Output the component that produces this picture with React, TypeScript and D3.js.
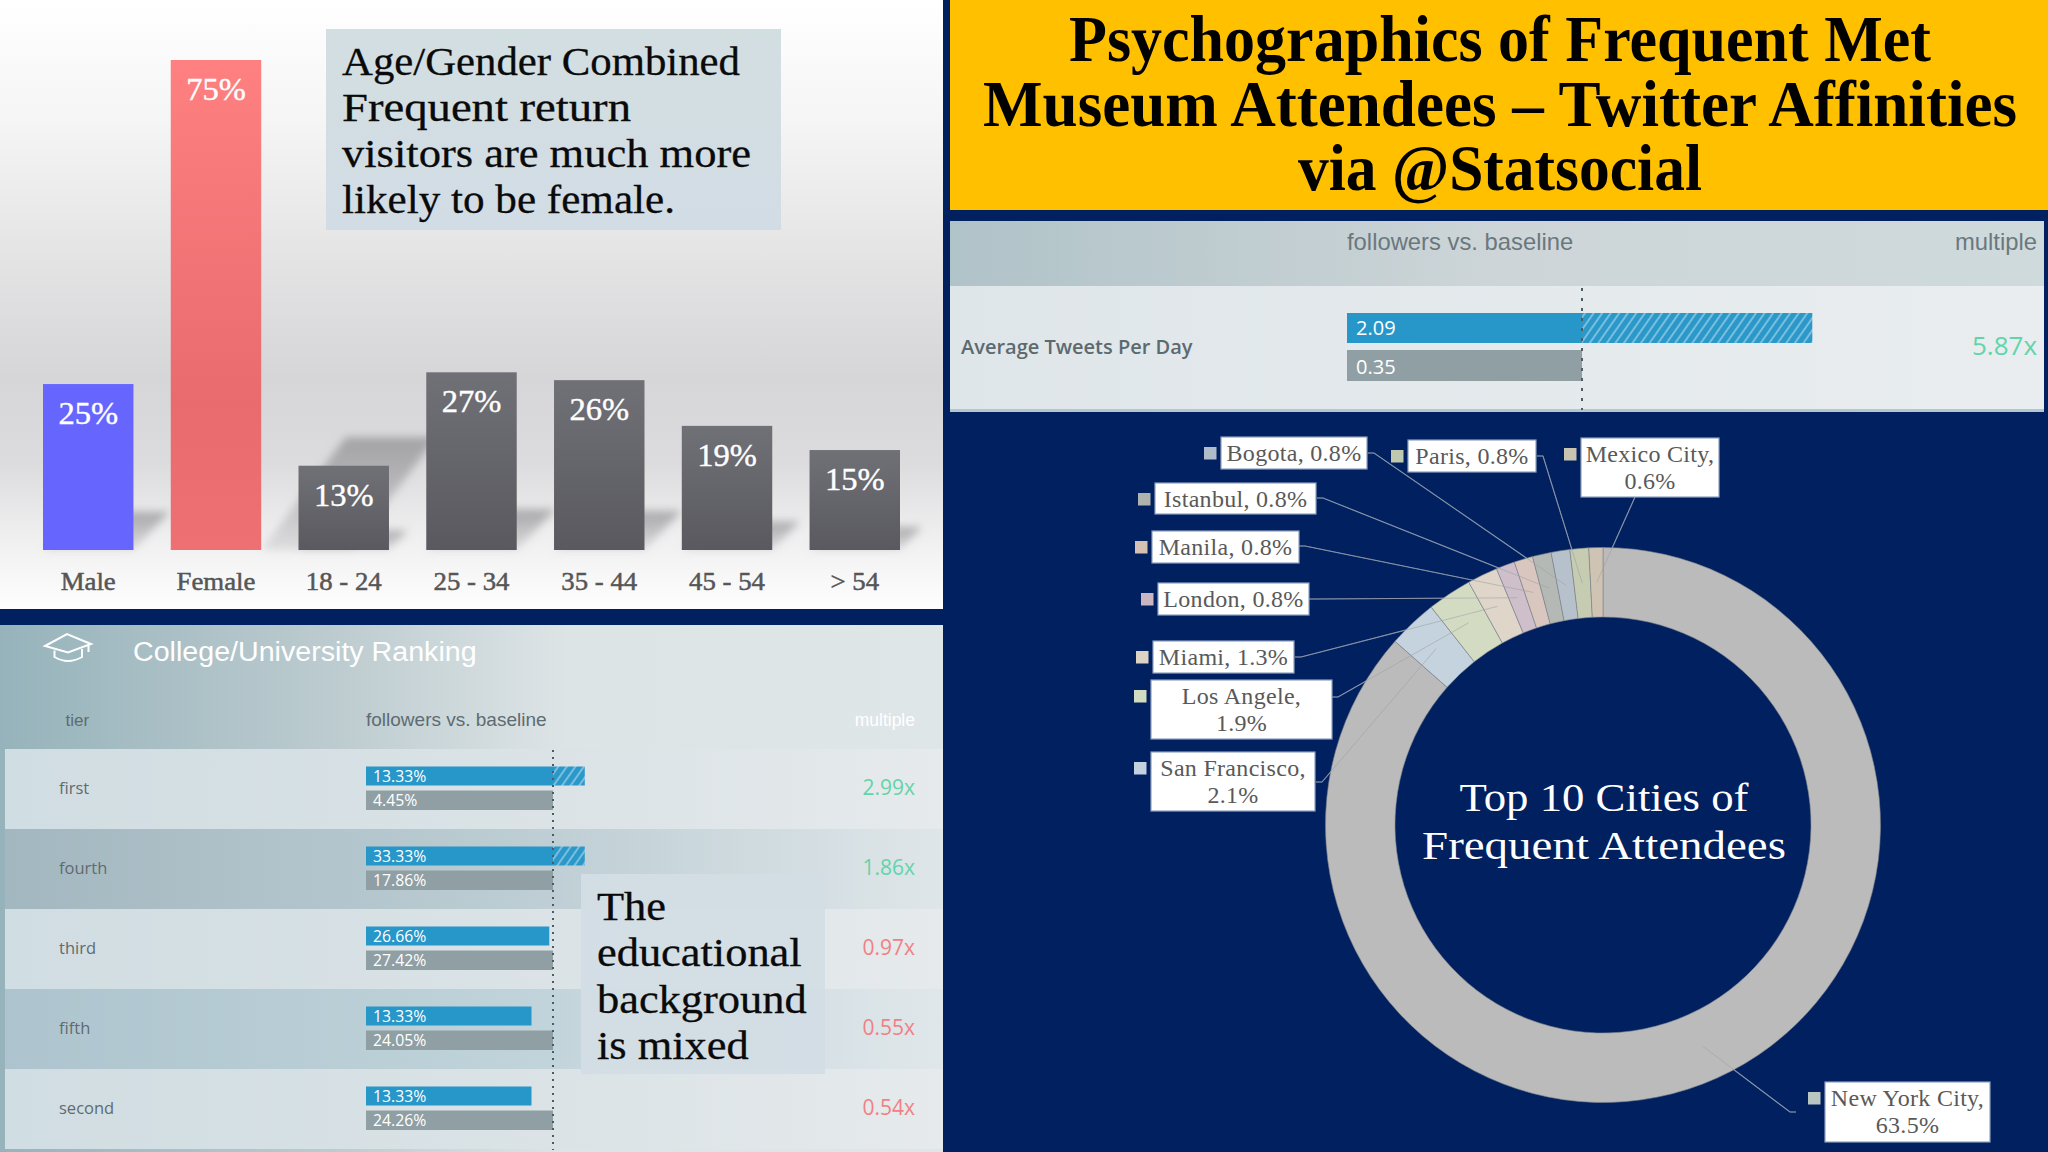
import * as d3 from 'd3';
import { useRef, useEffect } from 'react';

const SERIF = '"Liberation Serif", serif';
const SANS = '"Liberation Sans", sans-serif';
const OPEN = '"Open Sans", sans-serif';

// demographic bars
const demoCategories = ['Male', 'Female', '18 - 24', '25 - 34', '35 - 44', '45 - 54', '> 54'];
const demoLabels = [25, 75, 13, 27, 26, 19, 15];
// bar heights as drawn in the picture, a little off the printed labels
const demoHeights = [25.4, 75, 12.9, 27.2, 26, 19, 15.3];

// college table
const tiers = ['first', 'fourth', 'third', 'fifth', 'second'];
const tierFollowers = ['13.33%', '33.33%', '26.66%', '13.33%', '13.33%'];
const tierBaseline = ['4.45%', '17.86%', '27.42%', '24.05%', '24.26%'];
const tierMultiple = ['2.99x', '1.86x', '0.97x', '0.55x', '0.54x'];
// bar length, baseline bar = 1
const tierBarLength = [1.17, 1.17, 0.98, 0.885, 0.885];
const tierGood = [true, true, false, false, false];
const tierRowFill = ['url(#rowLight)', 'url(#rowDark)', 'url(#rowLight)', 'url(#rowBlue)', 'url(#rowLight)'];

// tweets table
const tweetFollowers = '2.09';
const tweetBaseline = '0.35';
const tweetMultiple = '5.87x';
const tweetBarLength = 1.98;

// donut
const cities = ['New York City', 'San Francisco', 'Los Angele', 'Miami', 'London', 'Manila', 'Istanbul', 'Bogota', 'Paris', 'Mexico City'];
const cityShare = [63.5, 2.1, 1.9, 1.3, 0.8, 0.8, 0.8, 0.8, 0.8, 0.6];
const sliceColors = ['#bcbbbc', '#c5d3df', '#d3dcc2', '#dfd5c9', '#cfbfca', '#d9c7bf', '#b5b9b6', '#b6c1cc', '#c5ccb1', '#cfc4b4'];
const swatchColors = ['#b9c5c1', '#c3d2de', '#d2dcc0', '#dcd3c4', '#c9b6c2', '#d6c0b3', '#aeb3ae', '#aebdc9', '#bfc9ae', '#c9c3b1'];
const twoLine = [true, true, true, false, false, false, false, false, false, true];

const titleLines = ['Psychographics of Frequent Met', 'Museum Attendees \u2013 Twitter Affinities', 'via @Statsocial'];
const titleWidths = [862, 1034, 404];
const ageNote = ['Age/Gender Combined', 'Frequent return', 'visitors are much more', 'likely to be female.'];
const ageNoteWidths = [398, 289, 409, 333];
const eduNote = ['The', 'educational', 'background', 'is mixed'];
const centreLines = ['Top 10 Cities of', 'Frequent Attendees'];
const centreWidths = [289, 364];

// label placement around the donut, same order as cities: box x, y, w, h, then where the leader starts
const labelBoxes = [
    [1825, 1082, 165, 60, 1796, 1112],
    [1151, 752, 164, 59, 1316, 782],
    [1151, 680, 181, 59, 1332, 697],
    [1153, 641, 141, 32, 1295, 657],
    [1158, 583, 151, 32, 1309, 599],
    [1152, 531, 147, 32, 1299, 546],
    [1155, 483, 161, 31, 1317, 498],
    [1221, 437, 146, 32, 1368, 453],
    [1408, 440, 128, 32, 1537, 456],
    [1581, 438, 138, 59, 1635, 497],
];

function addGradient(defs: any, id: string, stops: [number, string, number?][], horizontal = false) {
    const g = defs.append('linearGradient').attr('id', id)
        .attr('x1', 0).attr('y1', 0).attr('x2', horizontal ? 1 : 0).attr('y2', horizontal ? 0 : 1);
    stops.forEach(([o, c, a]) => g.append('stop').attr('offset', o).attr('stop-color', c).attr('stop-opacity', a ?? 1));
}

// the source typeface runs wider than Liberation Serif, so widen the glyphs
function stretch(sel: any, factor: number) {
    sel.each(function (this: SVGTextElement) {
        this.setAttribute('textLength', String(this.getComputedTextLength() * factor));
        this.setAttribute('lengthAdjust', 'spacingAndGlyphs');
    });
}

const App = () => {
    const ref = useRef<SVGSVGElement>(null);

    useEffect(() => {
        if (!ref.current) return;
        const svg = d3.select(ref.current);
        svg.selectAll('*').remove();
        const defs = svg.append('defs');

        addGradient(defs, 'panelBg', [[0, '#ffffff'], [0.2, '#f5f5f5'], [0.42, '#e4e4e5'], [0.62, '#d6d6d8'], [0.76, '#dcdcde'], [0.88, '#efeff0'], [1, '#fefefe']]);
        addGradient(defs, 'femaleBar', [[0, '#ff8080'], [0.7, '#e96b6e'], [1, '#ee7073']]);
        addGradient(defs, 'greyBar', [[0, '#707077'], [1, '#59595f']]);
        addGradient(defs, 'noteFill', [[0, '#d2dfe1'], [1, '#d2dce5']]);
        addGradient(defs, 'eduHead', [[0, '#96b3bb'], [0.35, '#bccbcf'], [0.6, '#dde4e6'], [1, '#dfe6e8']], true);
        addGradient(defs, 'rowLight', [[0, '#d0dde2'], [0.6, '#dbe3e6'], [1, '#e6eaec']], true);
        addGradient(defs, 'rowDark', [[0, '#a3b7c0'], [0.55, '#bccdd3'], [1, '#dfe6e9']], true);
        addGradient(defs, 'rowBlue', [[0, '#adc4ce'], [0.55, '#c0d3da'], [1, '#e0e7ea']], true);
        addGradient(defs, 'tweetHead', [[0, '#b0c3c8'], [0.5, '#cdd5d8'], [1, '#cfdadc']], true);
        addGradient(defs, 'tweetRow', [[0, '#dfe6e9'], [1, '#e9edef']], true);
        addGradient(defs, 'floorShade', [[0, '#8c8c90', 0.7], [1, '#8c8c90', 0.2]]);

        const hatch = defs.append('pattern').attr('id', 'hatch').attr('width', 7).attr('height', 7)
            .attr('patternUnits', 'userSpaceOnUse').attr('patternTransform', 'rotate(35)');
        hatch.append('rect').attr('width', 7).attr('height', 7).attr('fill', '#2b98ca');
        hatch.append('rect').attr('width', 2).attr('height', 7).attr('fill', '#79bedd');

        defs.append('filter').attr('id', 'soft').attr('x', '-20%').attr('y', '-20%').attr('width', '140%').attr('height', '140%')
            .append('feGaussianBlur').attr('stdDeviation', 4);

        svg.append('rect').attr('width', 2048).attr('height', 1152).attr('fill', '#002060');

        // --- top left: age / gender bars ---
        const demo = svg.append('g');
        demo.append('rect').attr('width', 943).attr('height', 609).attr('fill', 'url(#panelBg)');

        const x = d3.scaleBand().domain(demoCategories).range([43, 900]).paddingInner(0.292).paddingOuter(0);
        const y = d3.scaleLinear().domain([0, 75]).range([550, 60]);
        const rows = demoCategories.map((c, i) => ({ c, h: demoHeights[i], label: demoLabels[i], i }));

        // floor shadow, leaning back to the right. Female's falls past its own bar
        demo.append('g').attr('filter', 'url(#soft)').selectAll('path').data(rows).enter().append('path')
            .attr('d', d => {
                const sh = (y(0) - y(d.h)) * 0.23;
                const dx = d.i === 1 ? sh * 0.75 : sh * 0.95;
                const w = x.bandwidth();
                const left = d.i === 1 ? x(d.c)! + w : x(d.c)!;
                return `M${left},${y(0)}H${left + w}L${left + w + dx},${y(0) - sh}H${left + dx}Z`;
            })
            .attr('fill', 'url(#floorShade)');

        demo.selectAll('rect.bar').data(rows).enter().append('rect').attr('class', 'bar')
            .attr('x', d => x(d.c)!).attr('y', d => y(d.h))
            .attr('width', x.bandwidth()).attr('height', d => y(0) - y(d.h))
            .attr('fill', d => d.i === 0 ? '#6666ff' : d.i === 1 ? 'url(#femaleBar)' : 'url(#greyBar)');

        const vals = demo.selectAll('text.val').data(rows).enter().append('text').attr('class', 'val')
            .attr('x', d => x(d.c)! + x.bandwidth() / 2).attr('y', d => y(d.h) + 40)
            .attr('text-anchor', 'middle').attr('font-family', SERIF).attr('font-size', 31).attr('fill', '#ffffff')
            .attr('stroke', '#ffffff').attr('stroke-width', 0.4)
            .text(d => d.label + '%');
        stretch(vals, 1.05);

        const demoAxis = demo.append('g').attr('transform', 'translate(0,550)')
            .call(d3.axisBottom(x).tickSize(0).tickPadding(22));
        demoAxis.select('.domain').remove();
        demoAxis.selectAll('text').attr('font-family', SERIF).attr('font-size', 25.5)
            .attr('fill', '#565656').attr('stroke', '#565656').attr('stroke-width', 0.5);
        stretch(demoAxis.selectAll('text'), 1.05);

        demo.append('rect').attr('x', 326).attr('y', 29).attr('width', 455).attr('height', 201).attr('fill', 'url(#noteFill)');
        demo.selectAll('text.note').data(ageNote).enter().append('text').attr('class', 'note')
            .attr('x', 342).attr('y', (_, i) => 74.5 + i * 46)
            .attr('font-family', SERIF).attr('font-size', 40).attr('fill', '#0a0a0a')
            .attr('textLength', (_, i) => ageNoteWidths[i]).attr('lengthAdjust', 'spacingAndGlyphs')
            .attr('stroke', '#0a0a0a').attr('stroke-width', 0.3).text(d => d);

        // --- bottom left: college table ---
        const edu = svg.append('g');
        edu.append('rect').attr('y', 625).attr('width', 943).attr('height', 527).attr('fill', 'url(#eduHead)');

        const rowY = d3.scaleBand().domain(tiers).range([749, 1149]);
        const eduX = d3.scaleLinear().domain([0, 1]).range([366, 553]);
        const eduRows = tiers.map((t, i) => ({ t, i }));

        edu.selectAll('rect.row').data(eduRows).enter().append('rect').attr('class', 'row')
            .attr('x', 5).attr('y', d => rowY(d.t)!).attr('width', 938).attr('height', rowY.bandwidth())
            .attr('fill', d => tierRowFill[d.i]);

        edu.selectAll('rect.blue').data(eduRows).enter().append('rect').attr('class', 'blue')
            .attr('x', eduX(0)).attr('y', d => rowY(d.t)! + 17.5)
            .attr('width', d => eduX(Math.min(tierBarLength[d.i], 1)) - eduX(0)).attr('height', 19)
            .attr('fill', '#2796c9');
        edu.selectAll('rect.over').data(eduRows.filter(d => tierBarLength[d.i] > 1)).enter().append('rect').attr('class', 'over')
            .attr('x', eduX(1)).attr('y', d => rowY(d.t)! + 17.5)
            .attr('width', d => eduX(tierBarLength[d.i]) - eduX(1)).attr('height', 19)
            .attr('fill', 'url(#hatch)');
        edu.selectAll('rect.grey').data(eduRows).enter().append('rect').attr('class', 'grey')
            .attr('x', eduX(0)).attr('y', d => rowY(d.t)! + 41.5)
            .attr('width', eduX(1) - eduX(0)).attr('height', 19.5)
            .attr('fill', '#909fa4');

        edu.append('line').attr('x1', eduX(1)).attr('x2', eduX(1)).attr('y1', 750).attr('y2', 1150)
            .attr('stroke', '#4f5b62').attr('stroke-width', 2).attr('stroke-dasharray', '2 5');

        const eduText = (sel: any, cls: string, list: string[], xp: number, dy: number, size: number, family: string, fill: any, anchor = 'start') =>
            sel.selectAll('text.' + cls).data(list).enter().append('text').attr('class', cls)
                .attr('x', xp).attr('y', (_: string, i: number) => rowY(tiers[i])! + dy)
                .attr('text-anchor', anchor).attr('font-family', family).attr('font-size', size).attr('fill', fill)
                .text((d: string) => d);

        eduText(edu, 'tier', tiers, 59, 45, 16.5, OPEN, '#5f6b70');
        eduText(edu, 'fv', tierFollowers, 373, 33, 15.8, OPEN, '#ffffff');
        eduText(edu, 'bv', tierBaseline, 373, 57, 15.8, OPEN, '#ffffff');
        eduText(edu, 'mv', tierMultiple, 915, 46, 21, OPEN, (_: string, i: number) => tierGood[i] ? '#62d4aa' : '#f27f84', 'end');

        const college = edu.append('text').attr('x', 133).attr('y', 661).attr('font-family', SANS).attr('font-size', 27).attr('fill', '#ffffff').text('College/University Ranking');
        stretch(college, 1.06);
        edu.append('text').attr('x', 65.5).attr('y', 726).attr('font-family', SANS).attr('font-size', 17).attr('fill', '#5d6c72').text('tier');
        edu.append('text').attr('x', 366).attr('y', 726).attr('font-family', SANS).attr('font-size', 19).attr('fill', '#5d6c72').text('followers vs. baseline');
        edu.append('text').attr('x', 915).attr('y', 726).attr('text-anchor', 'end').attr('font-family', SANS).attr('font-size', 17.5).attr('fill', '#ffffff').text('multiple');

        // mortarboard
        edu.append('path').attr('d', 'M45,646L67,634L91,644L68,652.5ZM54.5,650.5V657Q68,665 82,657V649M88.5,644V652')
            .attr('fill', 'none').attr('stroke', '#ffffff').attr('stroke-width', 2);

        edu.append('rect').attr('x', 581).attr('y', 874).attr('width', 244).attr('height', 200).attr('fill', '#d3dde4').attr('opacity', 0.97);
        const eduNoteText = edu.selectAll('text.note').data(eduNote).enter().append('text').attr('class', 'note')
            .attr('x', 597).attr('y', (_, i) => 920 + i * 46.3)
            .attr('font-family', SERIF).attr('font-size', 40).attr('fill', '#0a0a0a')
            .attr('stroke', '#0a0a0a').attr('stroke-width', 0.3).text(d => d);
        stretch(eduNoteText, 1.11);

        // --- top right: title ---
        svg.append('rect').attr('x', 950).attr('width', 1098).attr('height', 210).attr('fill', '#ffc000');
        svg.selectAll('text.title').data(titleLines).enter().append('text').attr('class', 'title')
            .attr('x', 1500).attr('y', (_, i) => 61 + i * 64.5)
            .attr('text-anchor', 'middle').attr('font-family', SERIF).attr('font-size', 65).attr('font-weight', 'bold')
            .attr('textLength', (_, i) => titleWidths[i]).attr('lengthAdjust', 'spacingAndGlyphs')
            .attr('fill', '#000000').text(d => d);

        // --- right: tweets table ---
        const tw = svg.append('g');
        const twX = d3.scaleLinear().domain([0, 1]).range([1347, 1582]);
        tw.append('rect').attr('x', 950).attr('y', 221).attr('width', 1094).attr('height', 65).attr('fill', 'url(#tweetHead)');
        tw.append('rect').attr('x', 950).attr('y', 286).attr('width', 1094).attr('height', 126).attr('fill', 'url(#tweetRow)');
        tw.append('rect').attr('x', 950).attr('y', 409).attr('width', 1094).attr('height', 3).attr('fill', '#b4c6cf');
        tw.append('rect').attr('x', twX(0)).attr('y', 313).attr('width', twX(1) - twX(0)).attr('height', 30).attr('fill', '#2796c9');
        tw.append('rect').attr('x', twX(1)).attr('y', 313).attr('width', twX(tweetBarLength) - twX(1)).attr('height', 30).attr('fill', 'url(#hatch)');
        tw.append('rect').attr('x', twX(0)).attr('y', 350).attr('width', twX(1) - twX(0)).attr('height', 31).attr('fill', '#909fa4');
        tw.append('line').attr('x1', twX(1)).attr('x2', twX(1)).attr('y1', 288).attr('y2', 410)
            .attr('stroke', '#4f5b62').attr('stroke-width', 2).attr('stroke-dasharray', '3 7');
        tw.append('text').attr('x', 1347).attr('y', 250).attr('font-family', SANS).attr('font-size', 23.8).attr('fill', '#6a787e').text('followers vs. baseline');
        tw.append('text').attr('x', 2037).attr('y', 250).attr('text-anchor', 'end').attr('font-family', SANS).attr('font-size', 23.8).attr('fill', '#6a787e').text('multiple');
        tw.append('text').attr('x', 961).attr('y', 354).attr('font-family', OPEN).attr('font-weight', 600).attr('font-size', 20).attr('fill', '#5c6a70').text('Average Tweets Per Day');
        tw.append('text').attr('x', 1356).attr('y', 335).attr('font-family', OPEN).attr('font-size', 20).attr('fill', '#ffffff').text(tweetFollowers);
        tw.append('text').attr('x', 1356).attr('y', 374).attr('font-family', OPEN).attr('font-size', 20).attr('fill', '#ffffff').text(tweetBaseline);
        tw.append('text').attr('x', 2037).attr('y', 355).attr('text-anchor', 'end').attr('font-family', OPEN).attr('font-size', 26).attr('fill', '#62d4aa').text(tweetMultiple);

        // --- right: donut ---
        const cx = 1603, cy = 825;
        const pie = d3.pie<number>().sort(null)(cityShare);
        const arc = d3.arc<d3.PieArcDatum<number>>().innerRadius(208).outerRadius(277.5);
        const donut = svg.append('g');

        // leaders run into the middle of each slice: bright over the navy, faint over the ring
        const leader = d3.line();
        const leaderPath = (d: any, i: number) => {
            const [, , , , sx, sy] = labelBoxes[i];
            const [ax, ay] = (arc as any).centroid(d);
            const end: [number, number] = [cx + ax, cy + ay];
            const elbow: [number, number] = [sx + (end[0] < sx ? -6 : 6), sy];
            return leader(i === 9 ? [[sx, sy], end] : [[sx, sy], elbow, end]);
        };
        donut.selectAll('path.leaderUnder').data(pie).enter().append('path').attr('class', 'leaderUnder')
            .attr('d', leaderPath).attr('fill', 'none').attr('stroke', '#7486a8').attr('stroke-width', 1.1);

        const ring = donut.append('g').attr('transform', `translate(${cx},${cy})`);
        ring.selectAll('path').data(pie).enter().append('path')
            .attr('d', arc as any).attr('fill', (_, i) => sliceColors[i])
            .attr('stroke', '#80858a').attr('stroke-width', 0.6);

        donut.selectAll('path.leaderOver').data(pie).enter().append('path').attr('class', 'leaderOver')
            .attr('d', leaderPath).attr('fill', 'none').attr('stroke', '#9b9ea3').attr('stroke-width', 1).attr('stroke-opacity', 0.55);

        const labels = donut.selectAll('g.label').data(cities).enter().append('g').attr('class', 'label');
        labels.append('rect')
            .attr('x', (_, i) => labelBoxes[i][0]).attr('y', (_, i) => labelBoxes[i][1])
            .attr('width', (_, i) => labelBoxes[i][2]).attr('height', (_, i) => labelBoxes[i][3])
            .attr('fill', '#ffffff').attr('stroke', '#8fa1c0').attr('stroke-width', 1.2);
        labels.append('rect')
            .attr('x', (_, i) => labelBoxes[i][0] - 17).attr('y', (_, i) => labelBoxes[i][1] + 10)
            .attr('width', 12.5).attr('height', 12.5).attr('fill', (_, i) => swatchColors[i]);
        labels.each(function (c, i) {
            const [bx, by, bw] = labelBoxes[i];
            const lines = twoLine[i] ? [c + ',', cityShare[i] + '%'] : [c + ', ' + cityShare[i] + '%'];
            d3.select(this).selectAll('text').data(lines).enter().append('text')
                .attr('x', bx + bw / 2).attr('y', (_, k) => by + 24 + k * 27)
                .attr('text-anchor', 'middle').attr('font-family', SERIF).attr('font-size', 24)
                .attr('letter-spacing', 0.3).attr('fill', '#595959').text(d => d);
        });

        donut.selectAll('text.centre').data(centreLines).enter().append('text').attr('class', 'centre')
            .attr('x', cx + 1).attr('y', (_, i) => 811 + i * 48)
            .attr('text-anchor', 'middle').attr('font-family', SERIF).attr('font-size', 41)
            .attr('textLength', (_, i) => centreWidths[i]).attr('lengthAdjust', 'spacingAndGlyphs')
            .attr('fill', '#ffffff').text(d => d);
    }, []);

    return (<svg ref={ref} width={2048} height={1152} style={{ position: 'absolute', left: 0, top: 0, display: 'block' }}></svg>);
};

export default App;
